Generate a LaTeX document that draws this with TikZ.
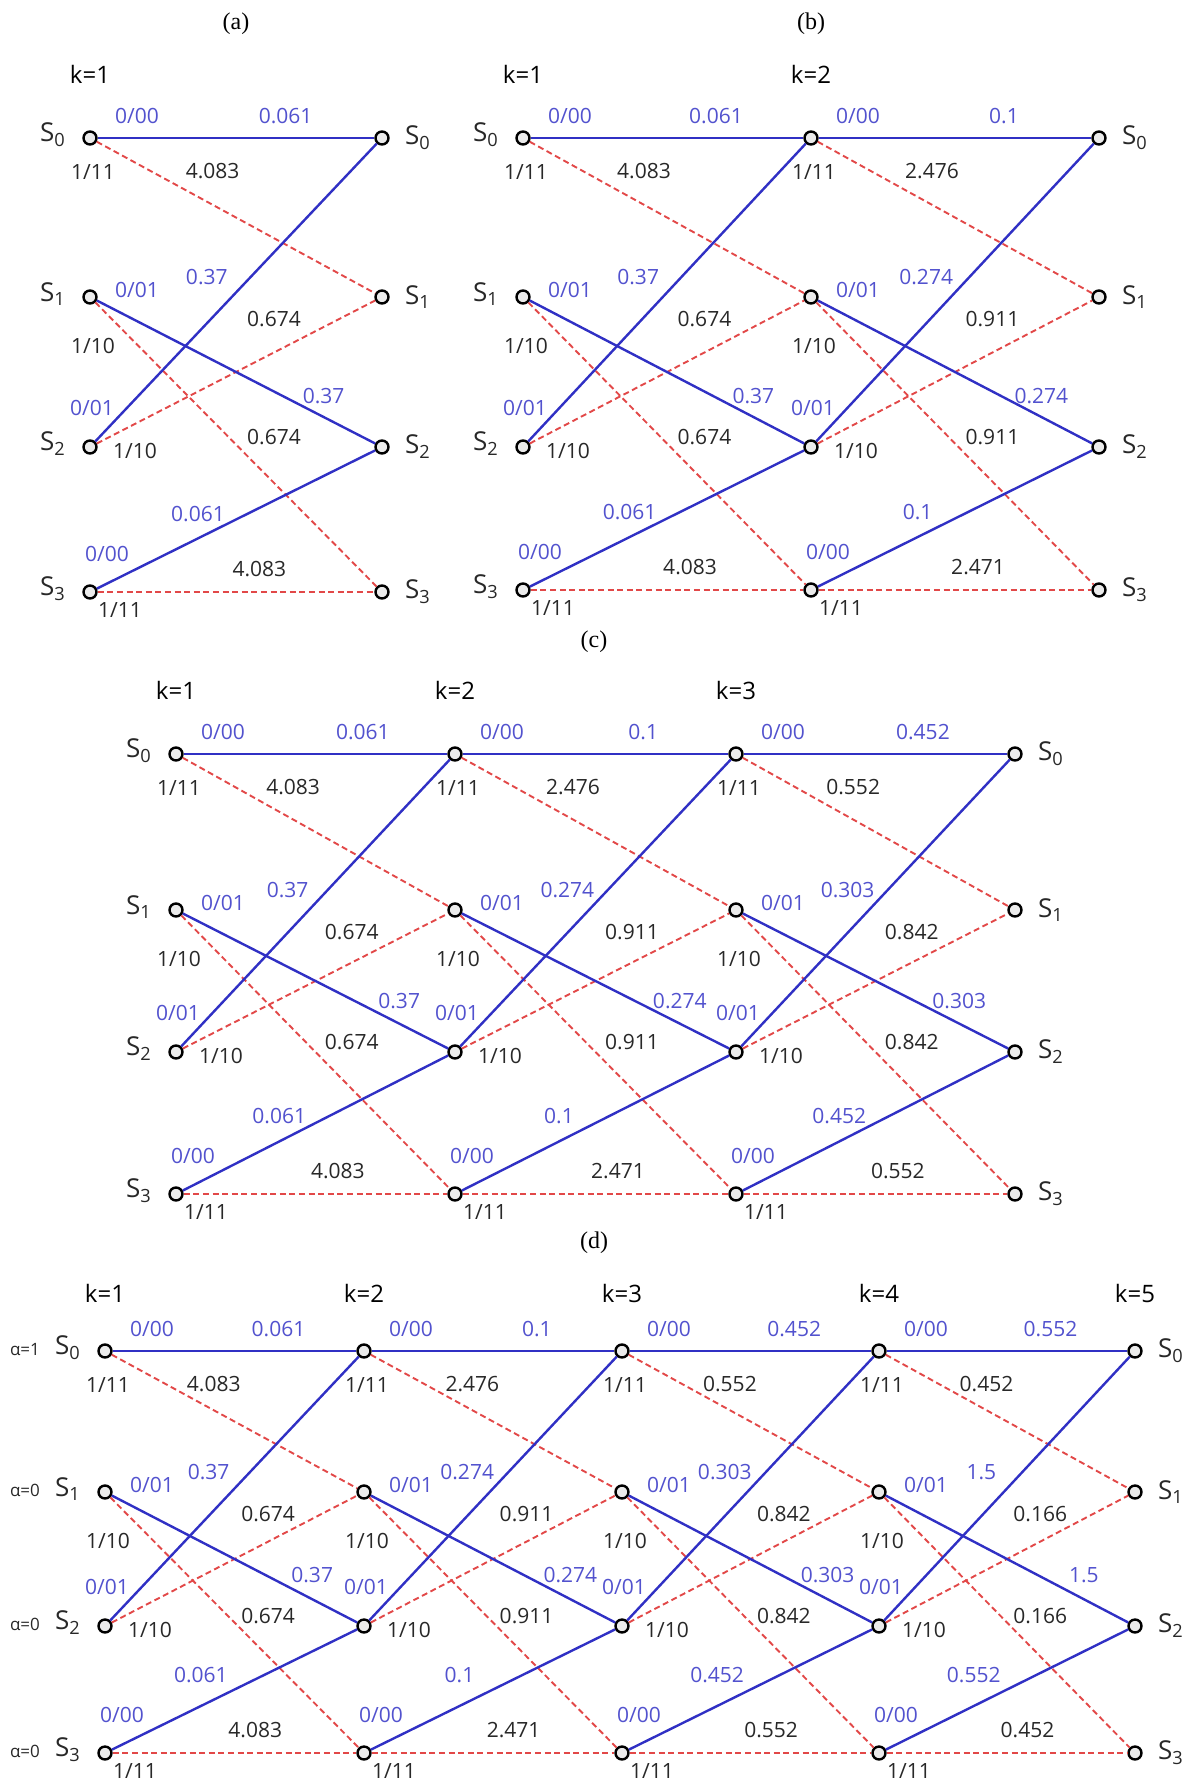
\documentclass[tikz,border=0pt]{standalone}
\usepackage{fontspec}
\setmainfont{Open Sans}
\newfontfamily\serifcap{Liberation Serif}
\usetikzlibrary{calc}

\definecolor{zeroblue}{RGB}{48,48,196}
\definecolor{zerotext}{RGB}{82,82,206}
\definecolor{onered}{RGB}{226,72,72}
\definecolor{darktext}{RGB}{40,40,40}

\begin{document}
\begin{tikzpicture}[x=0.5pt,y=-0.5pt,
  st/.style={circle,draw=black,line width=1.2pt,fill=black!8,minimum size=6.5pt,inner sep=0pt},
  zero/.style={draw=zeroblue,line width=1.2pt},
  one/.style={draw=onered,line width=0.95pt,dash pattern=on 3pt off 1.8pt},
  io/.style={text=zerotext,font=\fontsize{10.5}{12}\selectfont,inner sep=0pt},
  bits/.style={text=darktext,font=\fontsize{10.5}{12}\selectfont,inner sep=0pt},
  metric/.style={text=zerotext,font=\fontsize{10.5}{12}\selectfont,inner sep=0pt},
  sname/.style={text=darktext,font=\fontsize{13}{15}\selectfont,inner sep=0pt},
  kname/.style={text=black,font=\fontsize{12}{14}\selectfont,inner sep=0pt},
  alabel/.style={text=darktext,font=\fontsize{8.5}{10}\selectfont,inner sep=0pt},
  panel/.style={text=black,font=\serifcap\fontsize{12}{14}\selectfont,inner sep=0pt}]
\useasboundingbox (0,0) rectangle (1187,1783);

% states of the four trellises
\foreach \c/\x in {1/90,2/382}
  \foreach \r/\y in {0/138,1/297,2/447,3/592}
    \node[st] (a\c-\r) at (\x,\y) {};
\foreach \c/\x in {1/523,2/811,3/1099}
  \foreach \r/\y in {0/138,1/297,2/447,3/590}
    \node[st] (b\c-\r) at (\x,\y) {};
\foreach \c/\x in {1/176,2/455,3/736,4/1015}
  \foreach \r/\y in {0/754,1/910,2/1052,3/1194}
    \node[st] (c\c-\r) at (\x,\y) {};
\foreach \c/\x in {1/105,2/364,3/622,4/879,5/1135}
  \foreach \r/\y in {0/1351,1/1492,2/1626,3/1753}
    \node[st] (d\c-\r) at (\x,\y) {};

% one stage: branches, metrics and input/output bits
\foreach \g/\p/\q/\ma/\mb/\mc/\mdd/\me/\mf/\mg/\mh in {
  a/1/2/0.061/4.083/0.37/0.674/0.37/0.674/0.061/4.083,
  b/1/2/0.061/4.083/0.37/0.674/0.37/0.674/0.061/4.083,
  b/2/3/0.1/2.476/0.274/0.911/0.274/0.911/0.1/2.471,
  c/1/2/0.061/4.083/0.37/0.674/0.37/0.674/0.061/4.083,
  c/2/3/0.1/2.476/0.274/0.911/0.274/0.911/0.1/2.471,
  c/3/4/0.452/0.552/0.303/0.842/0.303/0.842/0.452/0.552,
  d/1/2/0.061/4.083/0.37/0.674/0.37/0.674/0.061/4.083,
  d/2/3/0.1/2.476/0.274/0.911/0.274/0.911/0.1/2.471,
  d/3/4/0.452/0.552/0.303/0.842/0.303/0.842/0.452/0.552,
  d/4/5/0.552/0.452/1.5/0.166/1.5/0.166/0.552/0.452}{
  \draw[one] (\g\p-0) -- (\g\q-1);
  \draw[one] (\g\p-1) -- (\g\q-3);
  \draw[one] (\g\p-2) -- (\g\q-1);
  \draw[one] (\g\p-3) -- (\g\q-3);
  \draw[zero] (\g\p-0) -- (\g\q-0);
  \draw[zero] (\g\p-1) -- (\g\q-2);
  \draw[zero] (\g\p-2) -- (\g\q-0);
  \draw[zero] (\g\p-3) -- (\g\q-2);
  \node[metric] at ($(\g\p-0)!0.67!(\g\q-0)+(0,-22)$) {\ma};
  \node[bits] at ($(\g\p-0)!0.42!(\g\q-0)+(0,33)$) {\mb};
  \node[metric] at ($(\g\p-1)!0.40!(\g\q-1)+(0,-20)$) {\mc};
  \node[bits] at ($(\g\p-1)!0.63!(\g\q-1)+(0,22)$) {\mdd};
  \node[metric] at ($(\g\p-2)!0.80!(\g\q-2)+(0,-51)$) {\me};
  \node[bits] at ($(\g\p-2)!0.63!(\g\q-2)+(0,-10)$) {\mf};
  \node[metric] at ($(\g\p-3)!0.37!(\g\q-3)+(0,-78)$) {\mg};
  \node[bits] at ($(\g\p-3)!0.58!(\g\q-3)+(0,-23)$) {\mh};
  \node[io] at ($(\g\p-0)+(47,-22)$) {0/00};
  \node[bits] at ($(\g\p-0)+(3,34)$) {1/11};
  \node[io] at ($(\g\p-1)+(47,-7)$) {0/01};
  \node[bits] at ($(\g\p-1)+(3,49)$) {1/10};
  \node[io] at ($(\g\p-2)+(2,-39)$) {0/01};
  \node[bits] at ($(\g\p-2)+(45,4)$) {1/10};
  \node[io] at ($(\g\p-3)+(17,-38)$) {0/00};
  \node[bits] at ($(\g\p-3)+(30,18)$) {1/11};
}

% state names
\foreach \g/\l/\m in {a/1/2,b/1/3,c/1/4,d/1/5}
  \foreach \r in {0,...,3} {
    \node[sname] at ($(\g\l-\r)+(-37,-3)$) {S\textsubscript{\r}};
    \node[sname] at ($(\g\m-\r)+(36,0)$) {S\textsubscript{\r}};
  }
\node[alabel] at ($(d1-0)+(-80,-2)$) {α=1};
\node[alabel] at ($(d1-1)+(-80,-2)$) {α=0};
\node[alabel] at ($(d1-2)+(-80,-2)$) {α=0};
\node[alabel] at ($(d1-3)+(-80,-2)$) {α=0};

% time steps
\foreach \g/\c in {a/1,b/1,b/2,c/1,c/2,c/3}
  \node[kname] at ($(\g\c-0)+(0,-64)$) {k=\c};
\foreach \c in {1,...,5}
  \node[kname] at ($(d\c-0)+(0,-58)$) {k=\c};

% panel captions
\node[panel] (capa) at (236,24) {(a)};
\node[panel] (capb) at (811,24) {(b)};
\node[panel] (capc) at (594,642) {(c)};
\node[panel] (capd) at (594,1243) {(d)};
\end{tikzpicture}
\end{document}
